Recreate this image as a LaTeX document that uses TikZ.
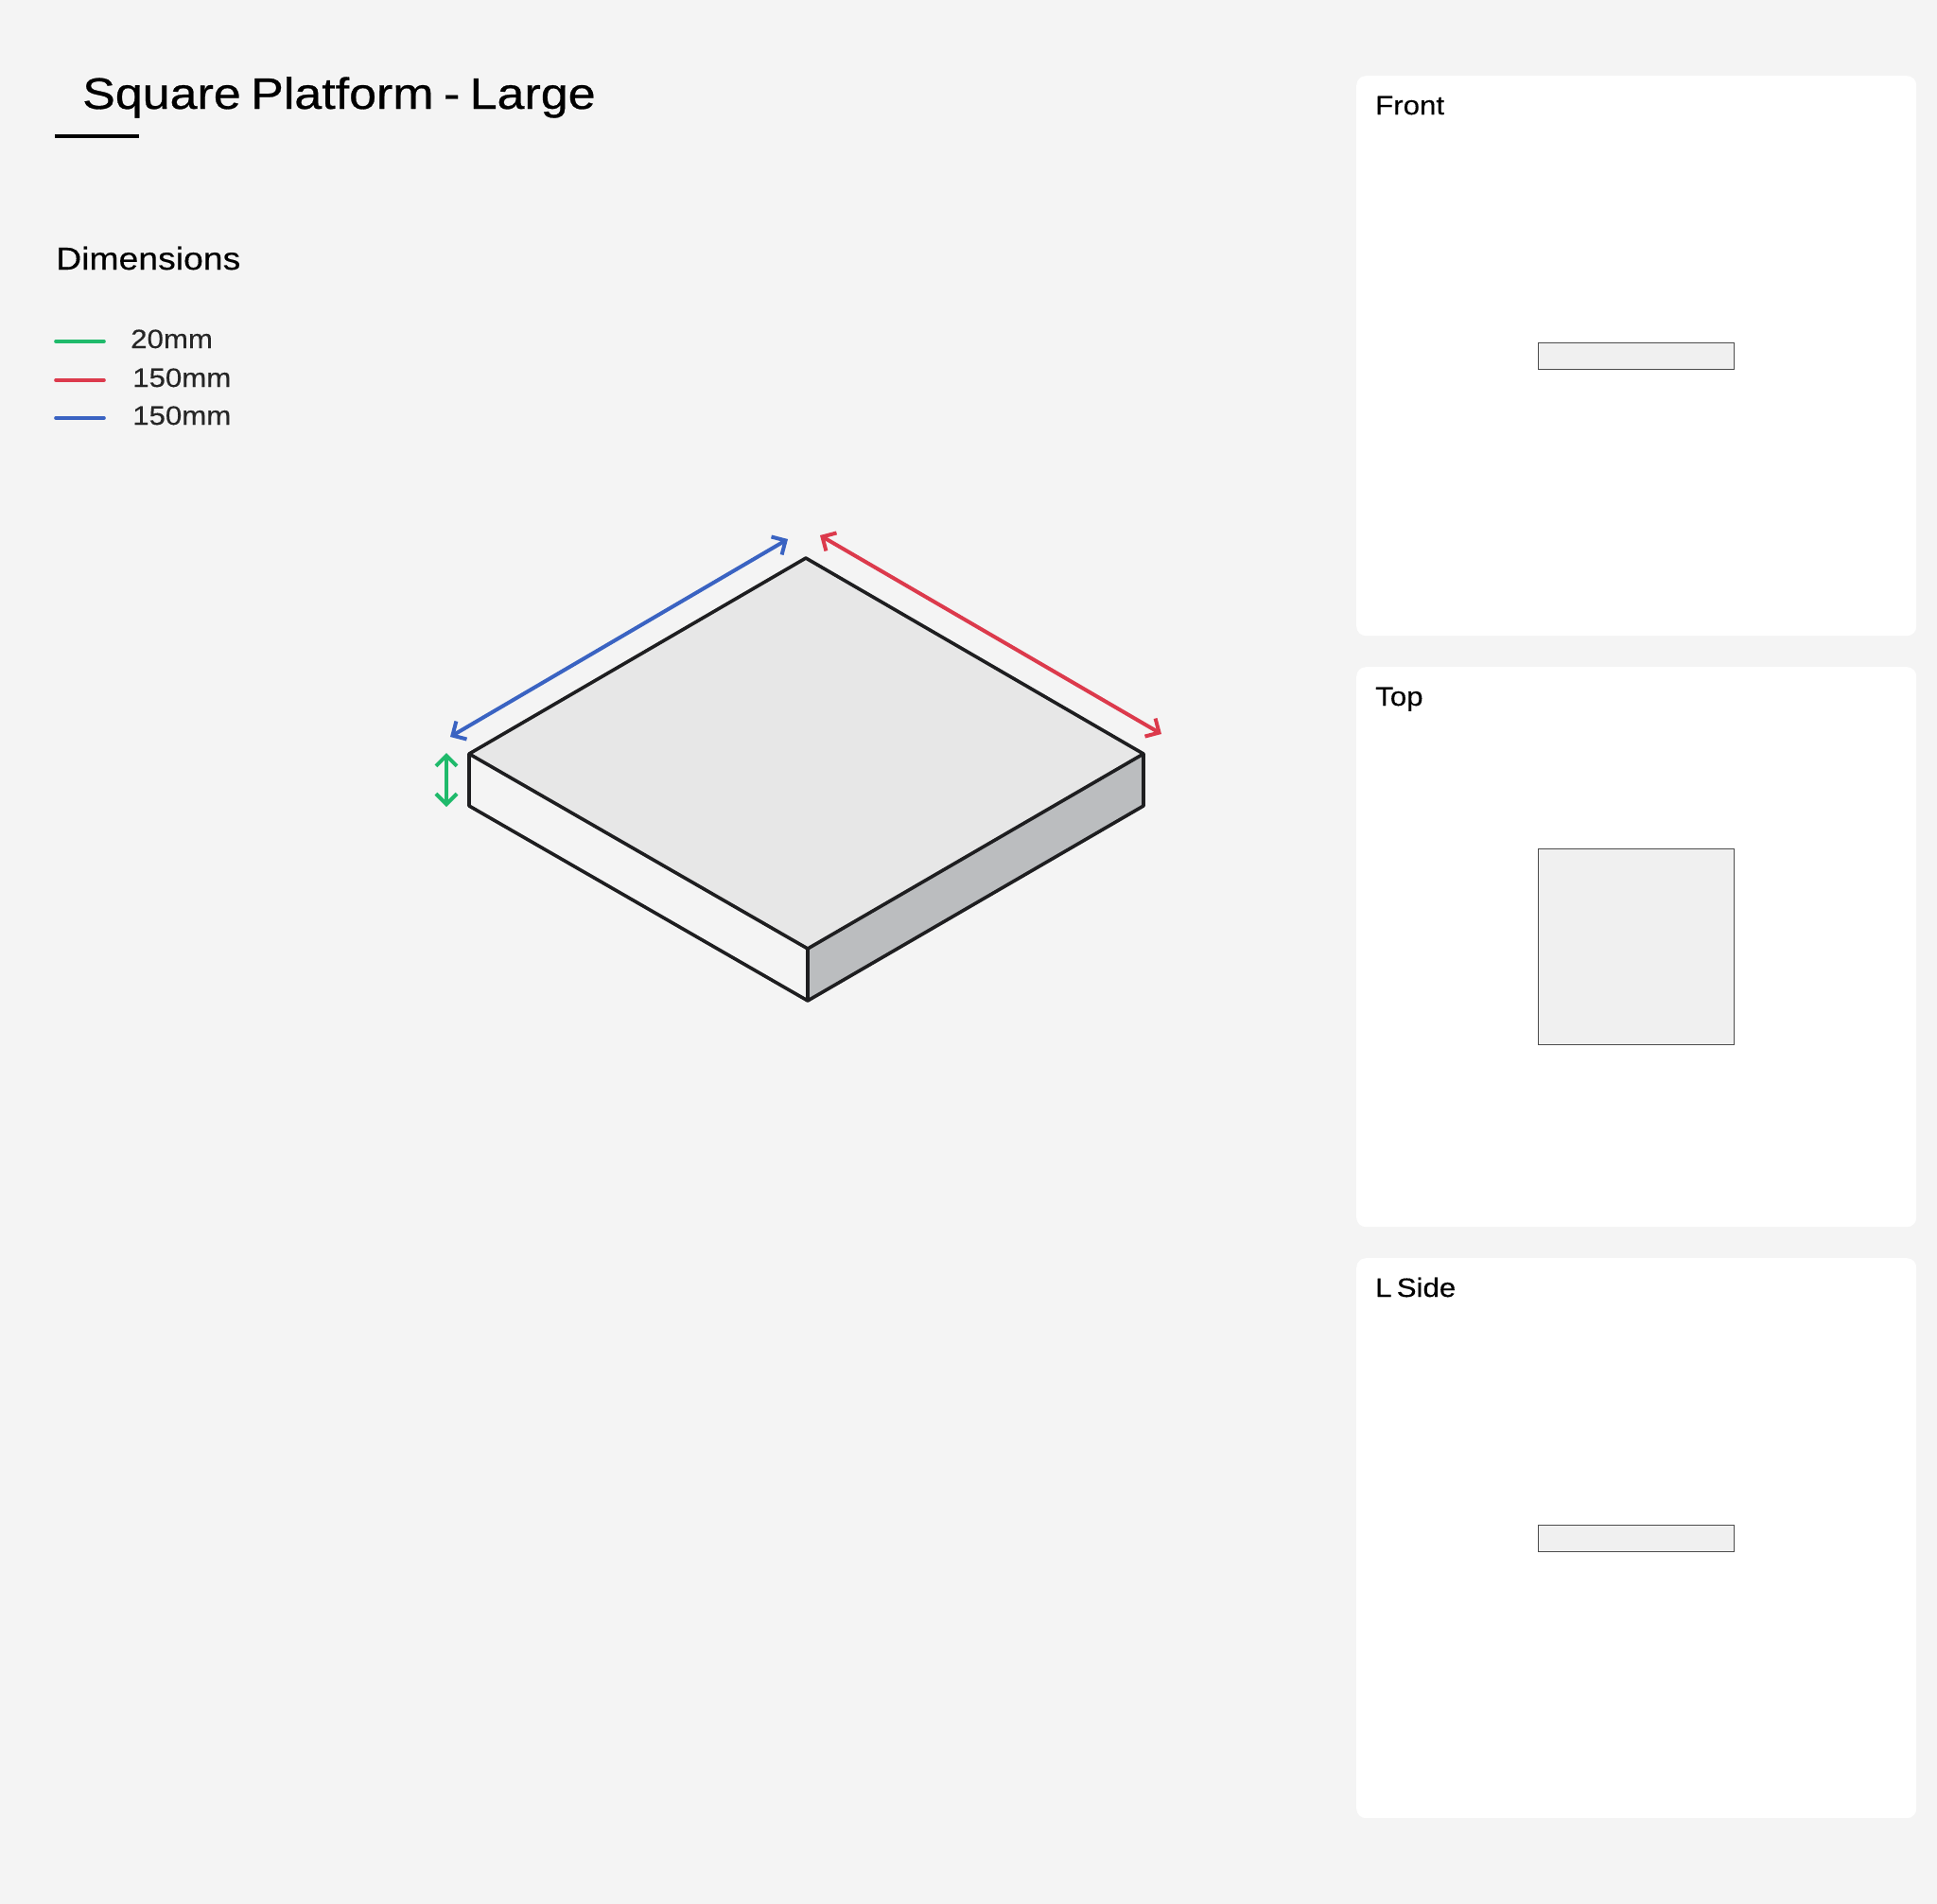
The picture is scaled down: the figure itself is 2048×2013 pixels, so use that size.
\documentclass[tikz,border=0pt]{standalone}
\usepackage{fontspec}
\setmainfont{Liberation Sans}
\newfontfamily\titlefont[FakeStretch=1.12,FakeBold=0.6,WordSpace=0.72]{Liberation Sans}
\newfontfamily\widefont[FakeStretch=1.115,FakeBold=0.25,WordSpace=0.6]{Liberation Sans}
\usetikzlibrary{arrows.meta}
\definecolor{bgc}{HTML}{F4F4F4}
\definecolor{topc}{HTML}{E7E7E7}
\definecolor{sidec}{HTML}{BBBDBF}
\definecolor{innerc}{HTML}{F0F0F0}
\definecolor{linec}{HTML}{1E1E20}
\definecolor{greenc}{HTML}{1FBA6B}
\definecolor{redc}{HTML}{DC3A4C}
\definecolor{bluec}{HTML}{3A63C2}
\tikzset{
  panelbox/.style={fill=white,draw=none,rounded corners=10pt,minimum width=592pt,minimum height=592pt,inner sep=0pt,anchor=north west},
  viewbox/.style={fill=innerc,draw=black!70,line width=1.1pt,inner sep=0pt,anchor=north west},
  paneltext/.style={font=\widefont\fontsize{28}{30}\selectfont,anchor=base west,inner sep=0pt,text=black},
  legendtext/.style={font=\widefont\fontsize{28}{30}\selectfont,anchor=base west,inner sep=0pt,text=black!85},
  legendline/.style={line width=3.6pt,line cap=round},
  edge/.style={draw=linec,line width=3.6pt,line join=round},
  dimline/.style={line width=4pt,{Straight Barb[length=11pt,width=22pt,line width=4pt]}-{Straight Barb[length=11pt,width=22pt,line width=4pt]}}
}
\begin{document}
\begin{tikzpicture}[x=1pt,y=-1pt]
\path[use as bounding box,fill=bgc] (0,0) rectangle (2048,2013);

% title and legend
\node[font=\titlefont\fontsize{46.4}{50}\selectfont,anchor=base west,inner sep=0pt] (title) at (87,115) {Square Platform - Large};
\coordinate (ula) at (58,144); \coordinate (ulb) at (147,144);
\draw[line width=4.4pt,black] (ula) -- (ulb);
\node[font=\widefont\fontsize{33.5}{36}\selectfont,anchor=base west,inner sep=0pt] (dims) at (59,285) {Dimensions};

\coordinate (la) at (59,361); \coordinate (lb) at (110,361);
\coordinate (lc) at (59,402); \coordinate (ld) at (110,402);
\coordinate (le) at (59,442); \coordinate (lf) at (110,442);
\draw[legendline,greenc] (la) -- (lb);
\draw[legendline,redc] (lc) -- (ld);
\draw[legendline,bluec] (le) -- (lf);
\node[legendtext] (t20) at (138,368) {20mm};
\node[legendtext] (t150a) at (140,409) {150mm};
\node[legendtext] (t150b) at (140,449) {150mm};

% platform
\coordinate (T) at (852,590);
\coordinate (L) at (496,797);
\coordinate (R) at (1209,797);
\coordinate (F) at (854,1003);
\coordinate (Lb) at (496,852);
\coordinate (Rb) at (1209,852);
\coordinate (Fb) at (854,1058);
\fill[topc] (T) -- (R) -- (F) -- (L) -- cycle;
\fill[sidec] (F) -- (R) -- (Rb) -- (Fb) -- cycle;
\draw[edge] (L) -- (T) -- (R) -- (Rb) -- (Fb) -- (Lb) -- cycle;
\draw[edge] (L) -- (F) -- (R);
\draw[edge] (F) -- (Fb);

% dimension arrows
\coordinate (ba) at (476,779); \coordinate (bb) at (833,570);
\coordinate (ra) at (867,566); \coordinate (rb) at (1228,776);
\coordinate (ga) at (472,796); \coordinate (gb) at (472,853);
\draw[dimline,bluec] (ba) -- (bb);
\draw[dimline,redc] (ra) -- (rb);
\draw[dimline,greenc] (ga) -- (gb);

% panels
\node[panelbox] (p1) at (1434,80) {};
\node[panelbox] (p2) at (1434,705) {};
\node[panelbox] (p3) at (1434,1330) {};
\node[paneltext] (l1) at (1454,121) {Front};
\node[paneltext] (l2) at (1454,746) {Top};
\node[paneltext] (l3) at (1454,1371) {L Side};
\node[viewbox,minimum width=207pt,minimum height=28pt] (v1) at (1626,361.5) {};
\node[viewbox,minimum width=207pt,minimum height=207pt] (v2) at (1626,897) {};
\node[viewbox,minimum width=207pt,minimum height=28pt] (v3) at (1626,1612) {};
\end{tikzpicture}
\end{document}
